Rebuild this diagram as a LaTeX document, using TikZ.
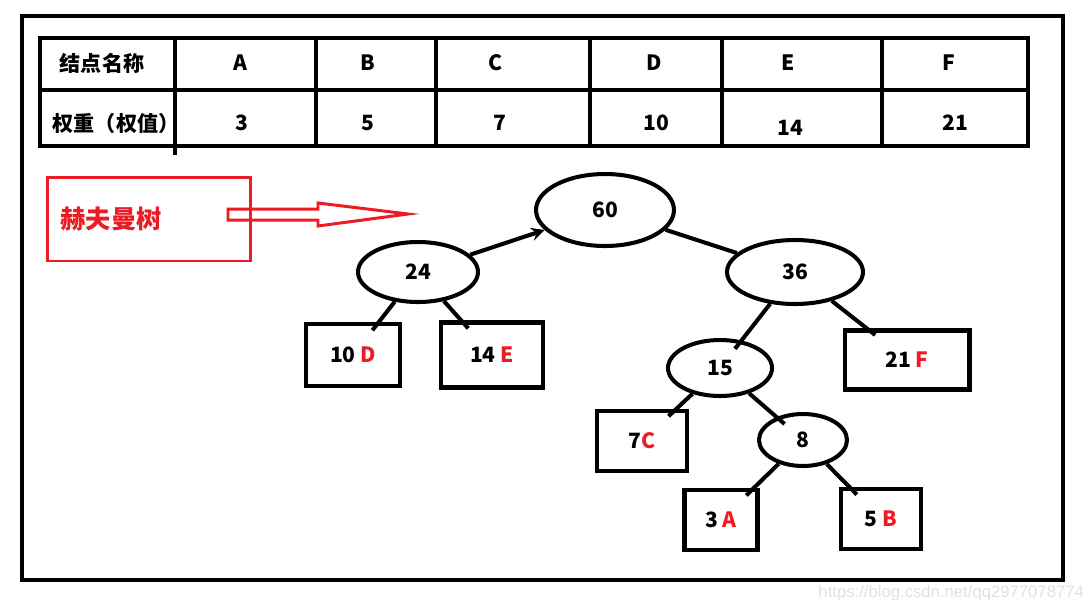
\documentclass[tikz,border=0pt]{standalone}
\usepackage{fontspec}
\setmainfont{Noto Sans CJK SC}
\setsansfont{Liberation Sans}
\usetikzlibrary{shapes.geometric}
\definecolor{hred}{RGB}{237,28,36}
\begin{document}
\begin{tikzpicture}[x=0.02cm,y=-0.02cm,
  thk/.style={line width=2.3pt},
  wnode/.style={ellipse, draw, thk, inner sep=0pt, font=\bfseries\large},
  leaf/.style={rectangle, draw, thk, inner sep=0pt, font=\bfseries\large},
  cell/.style={font=\bfseries\large},
  edge/.style={thk, shorten >=-6pt}]
\useasboundingbox (0,0) rectangle (1088,609);
\draw[thk] (22,16) rectangle (1063,580);
% table
\draw[line width=2.6pt] (40,38) rectangle (1028,146);
\draw[line width=2.6pt] (40,90) -- (1028,90);
\draw[line width=2.6pt] (175,40) -- (175,155);
\foreach \x in {316,436,590,722,882} \draw[line width=2.6pt] (\x,40) -- (\x,146);
\node[cell] (t0) at (102,63) {结点名称};
\node[cell] (t1) at (240,63) {A};
\node[cell] (t2) at (368,63) {B};
\node[cell] (t3) at (496,63) {C};
\node[cell] (t4) at (654,63) {D};
\node[cell] (t5) at (788,63) {E};
\node[cell] (t6) at (949,63) {F};
\node[cell] (w0) at (116,123) {权重（权值）};
\node[cell] (w1) at (242,123) {3};
\node[cell] (w2) at (368,123) {5};
\node[cell] (w3) at (500,123) {7};
\node[cell] (w4) at (656,123) {10};
\node[cell] (w5) at (790,128) {14};
\node[cell] (w6) at (955,123) {21};
% label box
\node[draw=hred, line width=1.7pt, minimum width=4.08cm, minimum height=1.68cm] (lbl) at (149,219) {};
\node[font=\bfseries\Large, text=hred] (lbltxt) at (111,219) {赫夫曼树};
\coordinate (tip) at (408,214);
\draw[hred, line width=1.7pt] (228,209) -- (318,209) -- (318,203) -- (tip) -- (318,226) -- (318,220) -- (228,220) -- cycle;
% tree
\node[wnode, minimum width=2.76cm, minimum height=1.44cm] (n60) at (605,210) {60};
\node[wnode, minimum width=2.4cm, minimum height=1.2cm] (n24) at (418,272) {24};
\node[wnode, minimum width=2.72cm, minimum height=1.28cm] (n36) at (795,272) {36};
\node[wnode, minimum width=2.08cm, minimum height=1.12cm] (n15) at (720,368) {15};
\node[wnode, minimum width=1.76cm, minimum height=1.04cm] (n8) at (803,440) {8};
\node[leaf, minimum width=1.88cm, minimum height=1.24cm] (b10) at (353,355) {10 \textcolor{hred}{D}};
\node[leaf, minimum width=2.04cm, minimum height=1.3cm] (b14) at (492,355) {14 \textcolor{hred}{E}};
\node[leaf, minimum width=2.5cm, minimum height=1.18cm] (b21) at (907,360) {21 \textcolor{hred}{F}};
\node[leaf, minimum width=1.8cm, minimum height=1.2cm] (b7) at (642,441) {7\textcolor{hred}{C}};
\node[leaf, minimum width=1.46cm, minimum height=1.2cm] (b3) at (721,520) {3 \textcolor{hred}{A}};
\node[leaf, minimum width=1.6cm, minimum height=1.2cm] (b5) at (881,519) {5 \textcolor{hred}{B}};
\draw[thk, -stealth] (n24) -- (n60);
\draw[thk] (n60) -- (n36);
\draw[edge] (n24) -- (b10);
\draw[edge] (n24) -- (b14);
\draw[edge] (n36) -- (n15);
\draw[edge] (n36) -- (b21);
\draw[edge] (n15) -- (b7);
\draw[edge] (n15) -- (n8);
\draw[edge] (n8) -- (b3);
\draw[edge] (n8) -- (b5);
\node[text=black!12, font=\sffamily\fontsize{9.5}{11}\selectfont, anchor=east, inner sep=1pt] (wm) at (1086,593) {https://blog.csdn.net/qq2977078774};
\end{tikzpicture}
\end{document}
